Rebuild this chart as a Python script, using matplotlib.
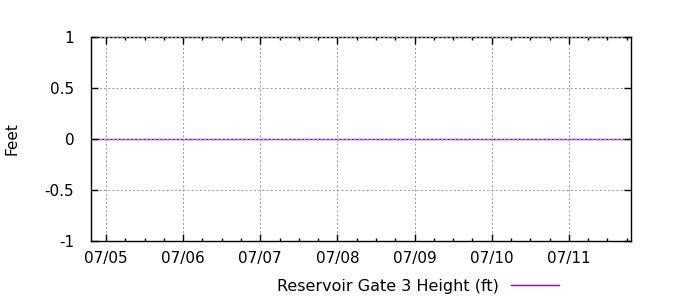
import matplotlib
matplotlib.use("Agg")
import matplotlib.pyplot as plt
import matplotlib.dates as mdates
import pandas as pd

# gate height readings (all zero over the week shown)
times = ["2023-07-04 19:20", "2023-07-05 12:00", "2023-07-06 12:00",
         "2023-07-07 12:00", "2023-07-08 12:00", "2023-07-09 12:00",
         "2023-07-10 12:00", "2023-07-11 12:00", "2023-07-11 19:20"]
gate_height = [0, 0, 0, 0, 0, 0, 0, 0, 0]
y_ticks = [-1, -0.5, 0, 0.5, 1]
y_labels = ["-1", "-0.5", "0", "0.5", "1"]
series_name = "Reservoir Gate 3 Height (ft)"

t = pd.to_datetime(times)

fig = plt.figure(figsize=(7, 3), dpi=100)
ax = fig.add_axes([91 / 700, 1 - 241 / 300, 540 / 700, 204 / 300])

ax.plot(t, gate_height, color="#9400d3", lw=1.0, label=series_name)

ax.set_xlim(t[0], t[-1])
ax.set_ylim(-1, 1)
ax.set_yticks(y_ticks)
ax.set_yticklabels(y_labels)
ax.xaxis.set_major_locator(mdates.DayLocator())
ax.xaxis.set_major_formatter(mdates.DateFormatter("%m/%d"))
ax.xaxis.set_minor_locator(mdates.HourLocator(byhour=[6, 12, 18]))

ax.tick_params(which="both", direction="in", top=True, right=True,
               labelsize=11, width=1, color="black")
ax.tick_params(which="major", length=5)
ax.tick_params(which="minor", length=2.5)
ax.tick_params(axis="y", pad=12)
ax.tick_params(axis="x", pad=7)

ax.set_axisbelow(False)
ax.grid(True, which="major", color="#a0a0a0", lw=0.75, linestyle=(0, (2, 2)))
for s in ax.spines.values():
    s.set_linewidth(1)

ax.set_ylabel("Feet", fontsize=11, labelpad=18)

ax.legend(loc="center", bbox_to_anchor=(418 / 700, 1 - 286 / 300),
          bbox_transform=fig.transFigure, frameon=False, markerfirst=False,
          fontsize=11.5, handlelength=3.0, borderpad=0, handletextpad=0.8)

fig.savefig("out.png", dpi=100)
